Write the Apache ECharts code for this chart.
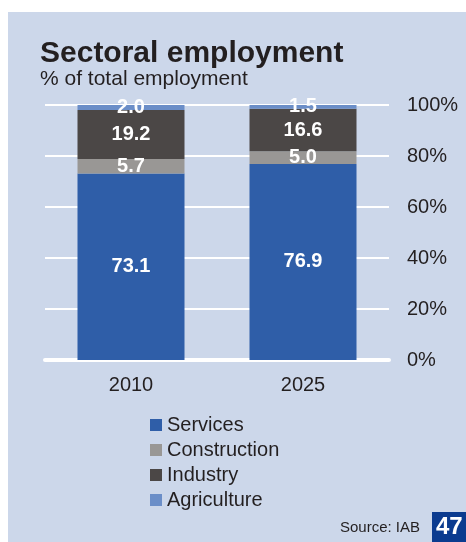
<!DOCTYPE html>
<html>
<head>
<meta charset="utf-8">
<script src="https://cdn.jsdelivr.net/npm/echarts@6/dist/echarts.min.js"></script>
<style>
  html, body { margin: 0; padding: 0; background: #ffffff; }
  #chart { position: absolute; left: 8px; top: 12px; width: 458px; height: 530px; }
</style>
</head>
<body>
<div id="chart"></div>
<script>
// Sectoral employment shares, % of total employment
const years = ['2010', '2025'];
const services = [73.1, 76.9];
const construction = [5.7, 5.0];
const industry = [19.2, 16.6];
const agriculture = [2.0, 1.5];
const yTicks = { min: 0, max: 100, step: 20 };

const FONT = "'Liberation Sans', Arial, Helvetica, sans-serif";
const TEXT = '#231f20';

function seg(name, data, color) {
  return {
    name: name,
    type: 'bar',
    stack: 'total',
    data: data,
    barWidth: 107,
    itemStyle: { color: color },
    label: {
      show: true,
      position: 'inside',
      color: '#ffffff',
      fontFamily: FONT,
      fontWeight: 'bold',
      fontSize: 20,
      formatter: p => p.value.toFixed(1)
    }
  };
}

const chart = echarts.init(document.getElementById('chart'), null, { renderer: 'canvas' });
chart.setOption({
  backgroundColor: '#ccd7ea',
  animation: false,
  title: [
    {
      text: 'Sectoral employment',
      left: 27, top: 22,
      textStyle: { fontFamily: FONT, fontWeight: 900, fontSize: 30, color: TEXT }
    },
    {
      text: '% of total employment',
      left: 27, top: 52,
      textStyle: { fontFamily: FONT, fontWeight: 'normal', fontSize: 21, color: TEXT }
    }
  ],
  legend: {
    orient: 'vertical',
    left: 137, top: 398,
    itemWidth: 12, itemHeight: 12, itemGap: 5,
    icon: 'rect',
    textStyle: { fontFamily: FONT, fontSize: 20, color: TEXT },
    data: ['Services', 'Construction', 'Industry', 'Agriculture']
  },
  grid: { left: 37, top: 93, width: 344, height: 255, containLabel: false },
  xAxis: {
    type: 'category',
    data: years,
    axisLine: { lineStyle: { color: '#ffffff', width: 4 } },
    axisTick: { show: false },
    axisLabel: { color: TEXT, fontFamily: FONT, fontSize: 20, margin: 15 }
  },
  yAxis: {
    type: 'value',
    position: 'right',
    min: yTicks.min, max: yTicks.max, interval: yTicks.step,
    axisLine: { show: false },
    axisTick: { show: false },
    splitLine: { lineStyle: { color: '#ffffff', width: 2 } },
    axisLabel: { color: TEXT, fontFamily: FONT, fontSize: 20, margin: 18, formatter: '{value}%' }
  },
  series: [
    seg('Services', services, '#2f5ea8'),
    seg('Construction', construction, '#999795'),
    seg('Industry', industry, '#4b4746'),
    seg('Agriculture', agriculture, '#6b8ec8')
  ],
  graphic: [
    {
      type: 'text',
      right: 46, top: 508,
      style: { text: 'Source: IAB', fill: TEXT, font: '15px ' + FONT }
    },
    {
      type: 'rect',
      left: 424, top: 500,
      shape: { width: 34, height: 30 },
      style: { fill: '#0b3b8f' }
    },
    {
      type: 'text',
      left: 428, top: 503,
      style: { text: '47', fill: '#ffffff', font: 'bold 24px ' + FONT }
    }
  ]
});
</script>
</body>
</html>
